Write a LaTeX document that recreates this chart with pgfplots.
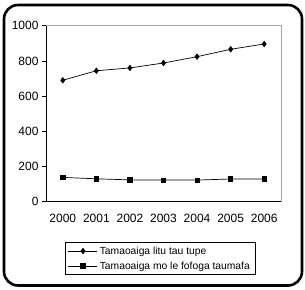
\documentclass[border=0pt]{standalone}
\usepackage{pgfplots}
\pgfplotsset{compat=1.18}
\usepackage{fontspec}
\setmainfont{Liberation Sans}
\begin{document}
\begin{tikzpicture}[x=1pt,y=1pt]
\useasboundingbox (0,0) rectangle (305,289);
\draw[line width=2.6pt, rounded corners=14pt] (4,3.5) rectangle (302,284);
\begin{axis}[
  at={(46pt,87.3pt)}, anchor=south west,
  scale only axis, width=235pt, height=176pt,
  xmin=-0.5, xmax=6.5, ymin=0, ymax=1000,
  axis x line*=bottom, axis y line*=left,
  axis line style={black, line width=0.6pt},
  xtick={0,...,6},
  xticklabels={2000,2001,2002,2003,2004,2005,2006},
  minor xtick={-0.5,0.5,...,6.5},
  ytick={0,200,...,1000},
  tick align=outside,
  major tick length=4pt, minor tick length=4pt,
  xtick style={draw=none},
  minor x tick style={black, line width=0.6pt},
  ytick style={black, line width=0.6pt},
  /pgf/number format/assume math mode=true,
  /pgf/number format/1000 sep={},
  ticklabel style={font=\fontsize{12}{14}\selectfont},
  xticklabel style={yshift=-5pt},
  legend style={at={(axis description cs:0.485,-0.323)}, anchor=center,
    draw=black, line width=0.6pt, font=\fontsize{10.3}{12}\selectfont,
    inner xsep=3pt, inner ysep=2pt, row sep=2pt, legend cell align=left},
  legend image code/.code={\draw[mark repeat=2,mark phase=2] plot coordinates {(0pt,0pt) (14.5pt,0pt) (29pt,0pt)};},
  clip=false,
]
\draw[gray!70, line width=0.6pt] (rel axis cs:0,1) -- (rel axis cs:1,1) -- (rel axis cs:1,0);
\addplot[black, line width=0.7pt, mark=diamond*, mark size=2.7pt] coordinates {
  (0,690) (1,744) (2,760) (3,788) (4,824) (5,866) (6,896)};
\addlegendentry{Tamaoaiga litu tau tupe}
\addplot[black, line width=0.7pt, mark=square*, mark size=2.2pt] coordinates {
  (0,138) (1,130) (2,124) (3,123) (4,123) (5,129) (6,129)};
\addlegendentry{Tamaoaiga mo le fofoga taumafa}
\end{axis}
\end{tikzpicture}
\end{document}
